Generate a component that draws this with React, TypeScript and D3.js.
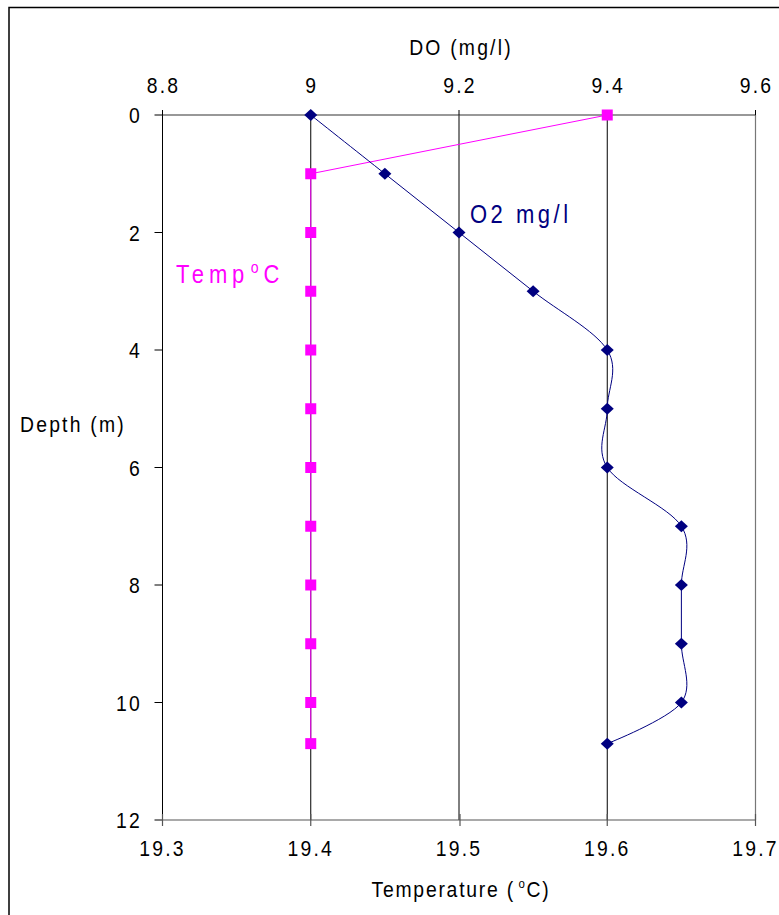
import React from "react";
import * as d3 from "d3";

const depths = [0, 1, 2, 3, 4, 5, 6, 7, 8, 9, 10, 10.7];
const doValues = [9.0, 9.1, 9.2, 9.3, 9.4, 9.4, 9.4, 9.5, 9.5, 9.5, 9.5, 9.4];
const tempValues = [19.6, 19.4, 19.4, 19.4, 19.4, 19.4, 19.4, 19.4, 19.4, 19.4, 19.4, 19.4];
const depthTicks = [0, 2, 4, 6, 8, 10, 12];
const doTicks = [8.8, 9.0, 9.2, 9.4, 9.6];
const tempTicks = [19.3, 19.4, 19.5, 19.6, 19.7];
const doGrid = [9.0, 9.2, 9.4];

const W = 779;
const H = 915;
const left = 162.5;
const right = 755.5;
const top = 115;
const bottom = 820;

const FONT = "'Liberation Sans', Arial, sans-serif";
const SX = 0.88;

function T(props: {
  x: number;
  y: number;
  anchor?: "start" | "middle" | "end";
  size?: number;
  spacing?: number;
  fill?: string;
  children: React.ReactNode;
}) {
  const { x, y, anchor = "start", size = 22, spacing = 2.5, fill = "#000", children } = props;
  return (
    <g transform={`translate(${x},${y}) scale(${SX},1)`}>
      <text
        x={0}
        y={0}
        textAnchor={anchor}
        fontFamily={FONT}
        fontSize={size}
        letterSpacing={spacing}
        fill={fill}
      >
        {children}
      </text>
    </g>
  );
}

export default function App() {
  const xDO = d3.scaleLinear().domain([8.8, 9.6]).range([left, right]);
  const xT = d3.scaleLinear().domain([19.3, 19.7]).range([left, right]);
  const y = d3.scaleLinear().domain([0, 12]).range([top, bottom]);

  const doLine = d3
    .line<number>()
    .x((d) => xDO(d))
    .y((_, i) => y(depths[i]))
    .curve(d3.curveCardinal.tension(0));
  const tLine = d3
    .line<number>()
    .x((d) => xT(d))
    .y((_, i) => y(depths[i]));

  return (
    <svg
      width={W}
      height={H}
      style={{ position: "absolute", left: 0, top: 0, background: "#fff" }}
    >
      <rect x={0} y={0} width={W} height={H} fill="#fff" />
      {/* outer chart border */}
      <rect x={9} y={7.5} width={820} height={940} fill="none" stroke="#000" strokeWidth={1.5} />

      {/* grid lines */}
      {doGrid.map((v) => (
        <line key={"g" + v} x1={xDO(v)} x2={xDO(v)} y1={top} y2={bottom} stroke="#000" strokeWidth={1} />
      ))}
      {/* frame */}
      <line x1={left} x2={left} y1={top} y2={bottom} stroke="#000" strokeWidth={1} />
      <line x1={right} x2={right} y1={top} y2={bottom} stroke="#777" strokeWidth={1.2} />
      <line x1={left} x2={right} y1={top} y2={top} stroke="#333" strokeWidth={1.2} />
      <line x1={left} x2={right} y1={bottom} y2={bottom} stroke="#555" strokeWidth={1.2} />

      {/* depth axis ticks & labels */}
      {depthTicks.map((t) => (
        <g key={"d" + t}>
          <line x1={left - 8} x2={left} y1={y(t)} y2={y(t)} stroke="#000" />
          <T x={142} y={y(t) + 8} anchor="end">
            {t}
          </T>
        </g>
      ))}

      {/* DO axis (top) */}
      {doTicks.map((t) => (
        <g key={"o" + t}>
          <line x1={xDO(t)} x2={xDO(t)} y1={top - 5} y2={top} stroke="#000" />
          <T x={xDO(t) + 1} y={93} anchor="middle">
            {String(+t.toFixed(1))}
          </T>
        </g>
      ))}
      <T x={461} y={55} anchor="middle">
        DO (mg/l)
      </T>

      {/* Temperature axis (bottom) */}
      {tempTicks.map((t) => (
        <g key={"t" + t}>
          <line
            x1={xT(t) + (t === 19.5 ? 1 : 0)}
            x2={xT(t) + (t === 19.5 ? 1 : 0)}
            y1={bottom - 6}
            y2={bottom + 6}
            stroke="#555"
            strokeWidth={1.2}
          />
          <T x={xT(t)} y={856} anchor="middle">
            {t.toFixed(1)}
          </T>
        </g>
      ))}
      <T x={461} y={897} anchor="middle" spacing={2}>
        Temperature (
        <tspan fontSize={13} dx={4} dy={-9}>o</tspan>
        <tspan dy={9}>C)</tspan>
      </T>

      <T x={20} y={432} spacing={2.5}>
        Depth (m)
      </T>

      {/* Temperature series */}
      <path d={tLine(tempValues) || ""} fill="none" stroke="#FF00FF" strokeWidth={1} />
      {tempValues.map((v, i) => (
        <rect
          key={"ts" + i}
          x={xT(v) - 5.5}
          y={y(depths[i]) - 5.5}
          width={11}
          height={11}
          fill="#FF00FF"
        />
      ))}

      {/* DO series */}
      <path d={doLine(doValues) || ""} fill="none" stroke="#000080" strokeWidth={1} />
      {doValues.map((v, i) => {
        const cx = xDO(v);
        const cy = y(depths[i]);
        return (
          <path
            key={"dm" + i}
            d={`M${cx},${cy - 6}L${cx + 6.5},${cy}L${cx},${cy + 6}L${cx - 6.5},${cy}Z`}
            fill="#000080"
          />
        );
      })}

      <T x={470} y={223} size={25} spacing={4} fill="#000080">
        O2 mg/l
      </T>
      <T x={176} y={283} size={25} spacing={5.5} fill="#FF00FF">
        Temp
        <tspan dx={2} fontSize={16} dy={-10}>o</tspan>
        <tspan dy={10}>C</tspan>
      </T>
    </svg>
  );
}
